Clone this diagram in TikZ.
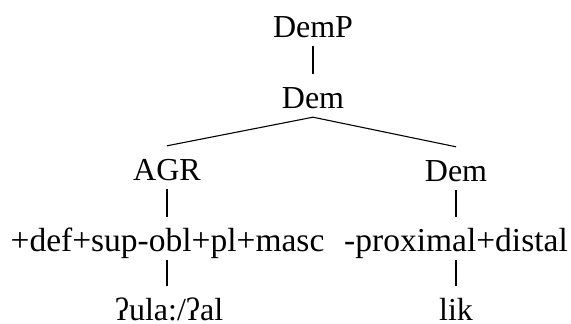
\documentclass[tikz,border=0pt]{standalone}
\usepackage{fontspec}
\setmainfont{Liberation Serif}
\begin{document}
\begin{tikzpicture}[x=1pt,y=-1pt,
  lab/.style={anchor=base,inner xsep=0pt,inner ysep=0pt,text height=34pt,text depth=9pt,font=\fontsize{32}{38}\selectfont},
  feat/.style={lab,font=\fontsize{33.5}{40}\selectfont},
  leaf/.style={lab,text depth=1pt},
  edge/.style={draw=black,line width=1.1pt}]
\useasboundingbox (0,0) rectangle (571,324);
\node[lab] (demp) at (313,37) {DemP};
\node[lab] (dem) at (313,108) {Dem};
\node[lab] (agr) at (167,180) {AGR};
\node[lab] (demr) at (456,181) {Dem};
\node[feat] (fl) at (167.5,251) {+def+sup-obl+pl+masc};
\node[feat] (fr) at (456,251) {-proximal+distal};
\node[leaf] (bl) at (169,320) {ʔula:/ʔal};
\node[leaf] (br) at (456,320) {lik};
\draw[edge] (demp.south) -- (dem.north);
\draw[edge] (dem.south) -- (agr.north);
\draw[edge] (dem.south) -- (demr.north);
\draw[edge] (agr.south) -- (agr.south |- fl.north);
\draw[edge] (demr.south) -- (demr.south |- fr.north);
\draw[edge] (agr.south |- fl.south) -- (agr.south |- bl.north);
\draw[edge] (demr.south |- fr.south) -- (demr.south |- br.north);
\end{tikzpicture}
\end{document}
